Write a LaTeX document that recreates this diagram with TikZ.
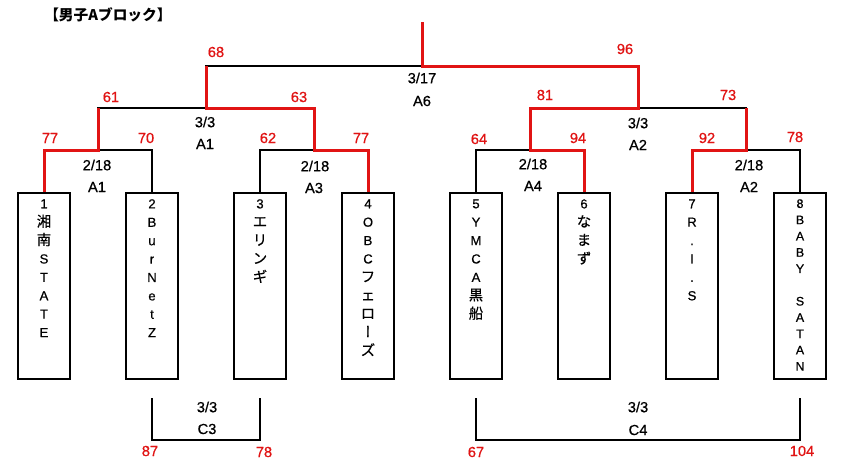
\documentclass[tikz,border=0pt]{standalone}
\usepackage{fontspec}
\setmainfont[FakeBold=0.6]{Liberation Sans}
\newfontfamily\jp[Scale=1.1,FakeBold=0.4]{Noto Sans CJK JP}
\newfontfamily\jpv[Scale=1.1,FakeBold=0.4,RawFeature=+vert]{Noto Sans CJK JP}
\newfontfamily\jpt[Scale=1.05]{Noto Sans CJK JP}
\definecolor{winred}{RGB}{225,20,20}
\tikzset{
  blk/.style={line width=1.5pt, black},
  win/.style={line width=2.25pt, winred, line join=miter},
  teambox/.style={draw, line width=1.5pt, minimum width=39pt, minimum height=139.5pt, inner sep=0pt},
  score/.style={text=winred, font=\fontsize{11}{13}\selectfont, inner sep=0pt},
  datelbl/.style={text=black, font=\fontsize{11}{13}\selectfont, inner sep=0pt},
  teamtxt/.style={anchor=north, align=center, inner sep=0pt, font=\fontsize{9.8}{13.8}\selectfont},
  teamtxtb/.style={anchor=north, align=center, inner sep=0pt, font=\fontsize{9.3}{12.2}\selectfont},
}
\begin{document}
\begin{tikzpicture}[x=0.75pt,y=-0.75pt]
\useasboundingbox (0,0) rectangle (848,464);
\fill[white] (0,0) rectangle (848,464);
% title
\node[anchor=west, inner sep=0pt, font=\fontsize{10.5}{12}\selectfont] (title) at (44,15) {\jpt\bfseries 【男子Aブロック】};
% team boxes
\foreach \i/\x in {1/44,2/152,3/260,4/368,5/476,6/584,7/692,8/800}
  \node[teambox] (b\i) at (\x,286) {};
% junctions
\coordinate (j1) at (98,150);
\coordinate (j2) at (314,150);
\coordinate (j3) at (530,150);
\coordinate (j4) at (746,150);
\coordinate (k1) at (206,108);
\coordinate (k2) at (638,108);
\coordinate (f) at (422,66);
\coordinate (top) at (422,22);
% black bracket lines
\draw[blk] (b1.north) |- (j1) -| (b2.north);
\draw[blk] (b3.north) |- (j2) -| (b4.north);
\draw[blk] (b5.north) |- (j3) -| (b6.north);
\draw[blk] (b7.north) |- (j4) -| (b8.north);
\draw[blk] (j1) |- (k1) -| (j2);
\draw[blk] (j3) |- (k2) -| (j4);
\draw[blk] (k1) |- (f) -| (k2);
\draw[blk] (f) -- (top);
% winners (red)
\draw[win] (b1.north) |- (j1) -- (j1 |- k1);
\draw[win] (b4.north) |- (j2) -- (j2 |- k1) -- (k1) -- (k1 |- f);
\draw[win] (b7.north) |- (j4) -- (j4 |- k2);
\draw[win] (b6.north) |- (j3) -- (j3 |- k2) -- (k2) -- (k2 |- f) -- (f) -- (top);
% lower brackets
\coordinate (c3a) at (152,398);
\coordinate (c3b) at (260,398);
\coordinate (c3m) at (206,440);
\coordinate (c4a) at (476,398);
\coordinate (c4b) at (800,398);
\coordinate (c4m) at (638,440);
\draw[blk] (c3a) |- (c3m) -| (c3b);
\draw[blk] (c4a) |- (c4m) -| (c4b);
% scores
\node[score] (s1) at (50,138) {77};
\node[score] (s2) at (146,138) {70};
\node[score] (s3) at (268,138) {62};
\node[score] (s4) at (361,138) {77};
\node[score] (s5) at (479,139) {64};
\node[score] (s6) at (578,138) {94};
\node[score] (s7) at (707,138) {92};
\node[score] (s8) at (795,137) {78};
\node[score] (r1) at (111,97) {61};
\node[score] (r2) at (299,97) {63};
\node[score] (r3) at (545,95) {81};
\node[score] (r4) at (728,95) {73};
\node[score] (q1) at (216,52) {68};
\node[score] (q2) at (625,49) {96};
\node[score] (c1) at (150,451) {87};
\node[score] (c2) at (264,452) {78};
\node[score] (c3) at (476,452) {67};
\node[score] (c4) at (802,451) {104};
% dates / match ids
\node[datelbl] (d1) at (97,165) {2/18};
\node[datelbl] (m1) at (97,187) {A1};
\node[datelbl] (d2) at (315,166) {2/18};
\node[datelbl] (m2) at (314,188) {A3};
\node[datelbl] (d3) at (533,164) {2/18};
\node[datelbl] (m3) at (533,186) {A4};
\node[datelbl] (d4) at (749,165) {2/18};
\node[datelbl] (m4) at (749,187) {A2};
\node[datelbl] (d5) at (205,122) {3/3};
\node[datelbl] (m5) at (205,144) {A1};
\node[datelbl] (d6) at (638,123) {3/3};
\node[datelbl] (m6) at (638,145) {A2};
\node[datelbl] (d7) at (422,78) {3/17};
\node[datelbl] (m7) at (422,101) {A6};
\node[datelbl] (d8) at (207,407) {3/3};
\node[datelbl] (m8) at (207,429) {C3};
\node[datelbl] (d9) at (638,407) {3/3};
\node[datelbl] (m9) at (638,430) {C4};
% team names
\node[teamtxt] (t1) at ([yshift=-5.25pt]b1.north) {1\\{\jp 湘}\\{\jp 南}\\S\\T\\A\\T\\E};
\node[teamtxt] (t2) at ([yshift=-5.25pt]b2.north) {2\\B\\u\\r\\N\\e\\t\\Z};
\node[teamtxt] (t3) at ([yshift=-5.25pt]b3.north) {3\\{\jp エ}\\{\jp リ}\\{\jp ン}\\{\jp ギ}};
\node[teamtxt] (t4) at ([yshift=-5.25pt]b4.north) {4\\O\\B\\C\\{\jp フ}\\{\jp ェ}\\{\jp ロ}\\{\jpv ー}\\{\jp ズ}};
\node[teamtxt] (t5) at ([yshift=-5.25pt]b5.north) {5\\Y\\M\\C\\A\\{\jp 黒}\\{\jp 船}};
\node[teamtxt] (t6) at ([yshift=-5.25pt]b6.north) {6\\{\jp な}\\{\jp ま}\\{\jp ず}};
\node[teamtxt] (t7) at ([yshift=-5.25pt]b7.north) {7\\R\\.\\I\\.\\S};
\node[teamtxtb] (t8) at ([yshift=-5.25pt]b8.north) {8\\B\\A\\B\\Y\\\mbox{}\\S\\A\\T\\A\\N};
\end{tikzpicture}
\end{document}
